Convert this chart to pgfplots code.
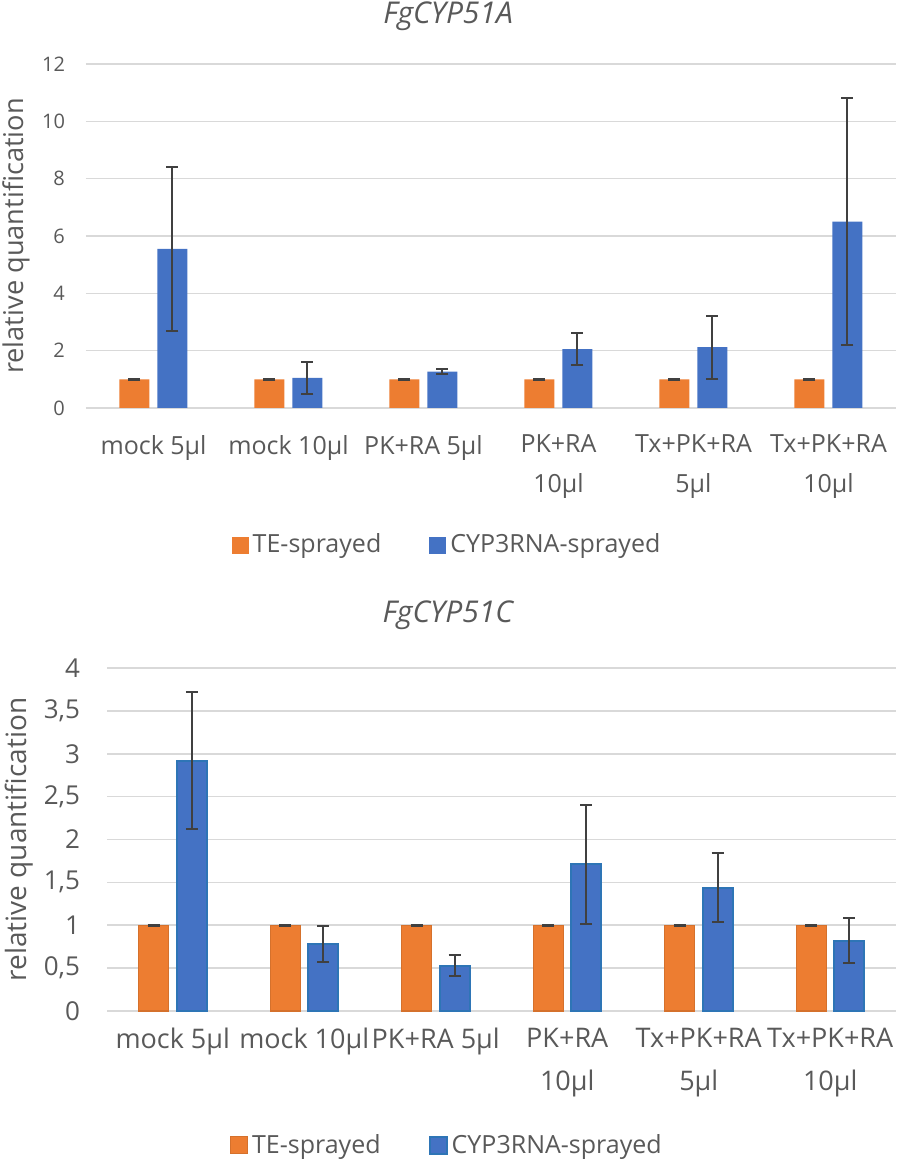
\documentclass[border=0pt]{standalone}
\usepackage{pgfplots}
\pgfplotsset{compat=1.18}
\usepackage{fontspec}
\setmainfont{Open Sans}
\definecolor{teOrange}{HTML}{ED7D31}
\definecolor{cypBlue}{HTML}{4472C4}
\definecolor{cypEdge}{HTML}{2E75B6}
\definecolor{txt}{HTML}{595959}
\definecolor{gridc}{HTML}{D9D9D9}
\definecolor{errc}{HTML}{404040}

\pgfplotsset{
  qpcr/.style={
    ybar=4pt, bar width=15pt,
    xmin=-0.5, xmax=5.5, ymin=0,
    xtick=data,
    xticklabels={mock 5µl, mock 10µl, PK+RA 5µl, PK+RA\\10µl, Tx+PK+RA\\5µl, Tx+PK+RA\\10µl},
    xticklabel style={align=center, text=txt},
    major tick length=0pt,
    axis line style={draw=none},
    ymajorgrids, grid style={gridc, line width=0.8pt},
    /pgf/number format/assume math mode=true,
    ylabel={relative quantification},
    ylabel style={text=txt, anchor=center},
    title style={text=txt, anchor=center},
    legend columns=2,
    legend style={draw=none, anchor=center, font=\fontsize{12.5}{15}\selectfont, text=txt,
      /tikz/every even column/.append style={column sep=22pt}},
    legend image code/.code={\fill[##1] (0pt,-4.25pt) rectangle (8.5pt,4.25pt);},
    error bars/y dir=both, error bars/y explicit,
    error bars/error bar style={errc, line width=1pt},
    error bars/error mark options={errc, line width=1pt, mark size=3pt, rotate=90},
  }
}

\begin{document}
\begin{tikzpicture}
\useasboundingbox (-43pt,32pt) rectangle (405pt,-551pt);

\begin{axis}[qpcr,
  at={(0,0)}, anchor=north west,
  width=405pt, height=172pt, scale only axis,
  ymax=12, ytick={0,2,4,6,8,10,12},
  yticklabel style={font=\fontsize{10}{12}\selectfont, text=txt, xshift=-7pt},
  xticklabel style={font=\fontsize{12.5}{20}\selectfont, yshift=-10pt},
  ylabel style={font=\fontsize{13.6}{16}\selectfont, at={(axis description cs:-0.0864,0.5)}},
  title={FgCYP51A},
  title style={font=\fontsize{15}{18}\selectfont\itshape, at={(0.447,1)}, yshift=18pt},
  legend style={at={(0.447,0)}, yshift=-68.5pt},
]
\addplot[fill=teOrange, draw=none] coordinates {
  (0,1) +- (0,0.01) (1,1) +- (0,0.01) (2,1) +- (0,0.01)
  (3,1) +- (0,0.01) (4,1) +- (0,0.01) (5,1) +- (0,0.01)
};
\addplot[fill=cypBlue, draw=none] coordinates {
  (0,5.55) +- (0,2.85) (1,1.05) +- (0,0.57) (2,1.27) +- (0,0.10)
  (3,2.05) +- (0,0.56) (4,2.12) +- (0,1.10) (5,6.50) +- (0,4.30)
};
\legend{TE-sprayed, CYP3RNA-sprayed}
\end{axis}

\begin{axis}[qpcr,
  at={(10.5pt,-302pt)}, anchor=north west,
  width=394.5pt, height=171.5pt, scale only axis,
  ymax=4, ytick={0,0.5,1,1.5,2,2.5,3,3.5,4},
  /pgf/number format/use comma,
  yticklabel style={font=\fontsize{13}{15}\selectfont, text=txt, xshift=-10pt},
  xticklabel style={font=\fontsize{13.5}{21.5}\selectfont, yshift=-5pt},
  ylabel style={font=\fontsize{14}{16}\selectfont, at={(axis description cs:-0.1115,0.5)}},
  title={FgCYP51C},
  title style={font=\fontsize{15}{18}\selectfont\itshape, at={(0.432,1)}, yshift=20.5pt},
  legend style={at={(0.432,0)}, yshift=-67pt},
]
\addplot[fill=teOrange, draw=teOrange!90!black, line width=0.6pt] coordinates {
  (0,1) +- (0,0.005) (1,1) +- (0,0.005) (2,1) +- (0,0.005)
  (3,1) +- (0,0.005) (4,1) +- (0,0.005) (5,1) +- (0,0.005)
};
\addplot[fill=cypBlue, draw=cypEdge, line width=1pt] coordinates {
  (0,2.92) +- (0,0.80) (1,0.78) +- (0,0.21) (2,0.53) +- (0,0.12)
  (3,1.71) +- (0,0.69) (4,1.44) +- (0,0.40) (5,0.82) +- (0,0.26)
};
\legend{TE-sprayed, CYP3RNA-sprayed}
\end{axis}
\end{tikzpicture}
\end{document}
